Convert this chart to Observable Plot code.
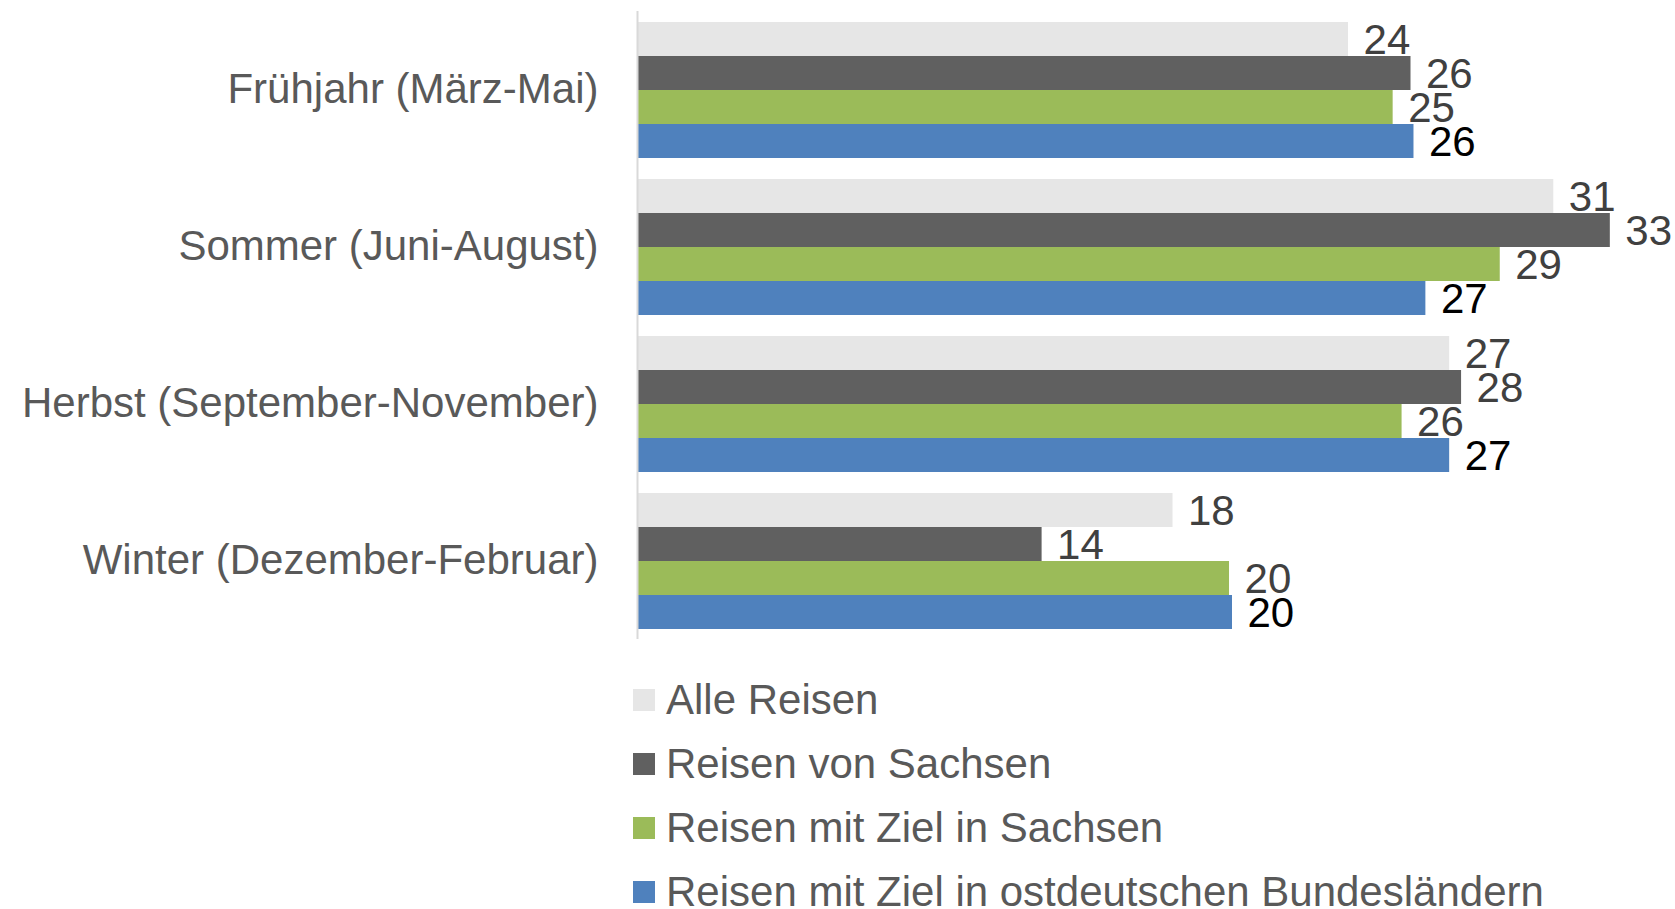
<!DOCTYPE html>
<html>
<head>
<meta charset="utf-8">
<script src="https://cdn.jsdelivr.net/npm/d3@7"></script>
<script src="https://cdn.jsdelivr.net/npm/@observablehq/plot@0.6"></script>
<style>
  html, body { margin: 0; padding: 0; background: #ffffff; }
  body { font-family: Arial, "Liberation Sans", Helvetica, sans-serif; }
  #legend { margin-top: 8px; padding-left: 633px; }
  .row { display: flex; align-items: center; height: 64px; }
  .sw { width: 22px; height: 22px; margin-right: 11px; flex: none; }
  .lab { font-size: 42px; line-height: 64px; color: #595959; white-space: nowrap; font-family: Arial, "Liberation Sans", Helvetica, sans-serif; }
</style>
</head>
<body>
<div id="chart"></div>
<div id="legend"></div>
<script>
const seasons = [
  "Frühjahr (März-Mai)",
  "Sommer (Juni-August)",
  "Herbst (September-November)",
  "Winter (Dezember-Februar)"
];
const series = [
  "Alle Reisen",
  "Reisen von Sachsen",
  "Reisen mit Ziel in Sachsen",
  "Reisen mit Ziel in ostdeutschen Bundesländern"
];
const alleReisen   = [23.9, 30.8, 27.3, 18.0];
const vonSachsen   = [26.0, 32.7, 27.7, 13.6];
const zielSachsen  = [25.4, 29.0, 25.7, 19.9];
const zielOst      = [26.1, 26.5, 27.3, 20.0];
const valueLabels  = [["24", "31", "27", "18"], ["26", "33", "28", "14"], ["25", "29", "26", "20"], ["26", "27", "27", "20"]];
const colors = ["#E6E6E6", "#606060", "#9BBB59", "#4F81BD"];

const values = [alleReisen, vonSachsen, zielSachsen, zielOst];
const data = seasons.flatMap((s, i) => series.map((k, j) => ({season: s, series: k, value: values[j][i], label: valueLabels[j][i]})));
const FONT = "Arial, 'Liberation Sans', Helvetica, sans-serif";

const chart = Plot.plot({
  width: 1675,
  height: 660,
  marginLeft: 637,
  marginRight: 26.5,
  marginTop: 11,
  marginBottom: 20,
  style: {fontFamily: FONT, fontSize: "42px", color: "#595959", background: "#ffffff"},
  x: {domain: [0, 34], axis: null},
  y: {domain: series, axis: null, padding: 0},
  fy: {domain: seasons, label: null, axis: "left", tickSize: 0, tickPadding: 39, paddingInner: 0.1145, paddingOuter: 0.0572},
  color: {domain: series, range: colors},
  marks: [
    Plot.barX(data, {x: "value", y: "series", fy: "season", fill: "series"}),
    Plot.ruleX([0], {stroke: "#d9d9d9", strokeWidth: 2, insetTop: -9, insetBottom: -9}),
    Plot.text(data.filter(d => d.series !== series[3]), {x: "value", y: "series", fy: "season", text: "label", textAnchor: "start", dx: 15, dy: 1.5, fill: "#404040", fontSize: 42}),
    Plot.text(data.filter(d => d.series === series[3]), {x: "value", y: "series", fy: "season", text: "label", textAnchor: "start", dx: 15, dy: 1.5, fill: "#000000", fontSize: 42})
  ]
});
document.getElementById("chart").appendChild(chart);

const legend = document.getElementById("legend");
series.forEach((s, i) => {
  const row = document.createElement("div");
  row.className = "row";
  const sw = document.createElement("span");
  sw.className = "sw";
  sw.style.background = colors[i];
  const lab = document.createElement("span");
  lab.className = "lab";
  lab.textContent = s;
  row.appendChild(sw);
  row.appendChild(lab);
  legend.appendChild(row);
});
</script>
</body>
</html>
